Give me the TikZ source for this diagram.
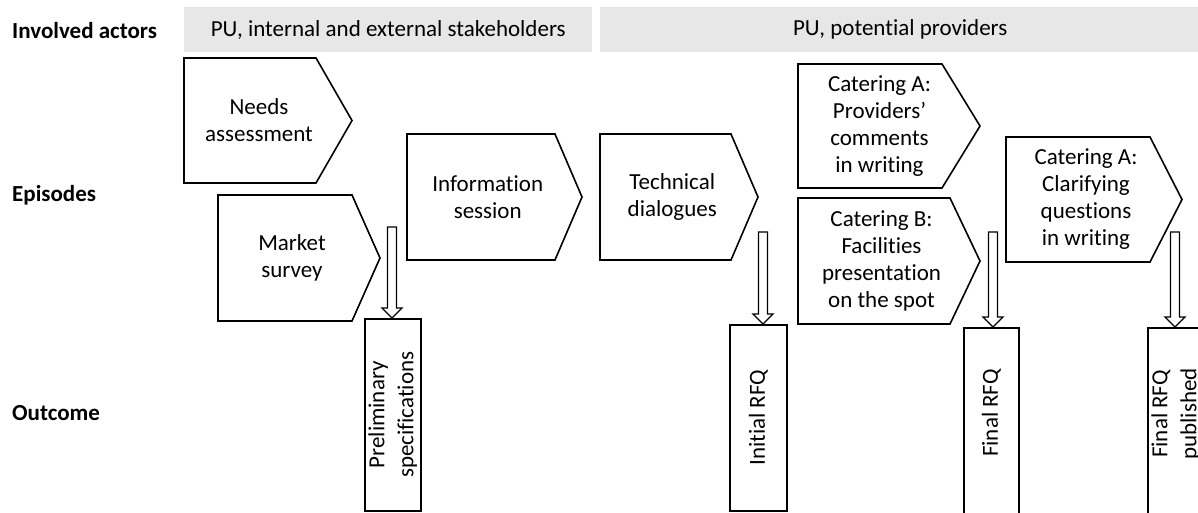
\documentclass[tikz,border=0pt]{standalone}
\usepackage{fontspec}
\setmainfont{Carlito}[Ligatures={NoCommon}]
\usetikzlibrary{calc}

\definecolor{actorfill}{HTML}{E7E7E7}

\tikzset{
  basefont/.style={font=\fontsize{23}{27}\selectfont},
  actorbar/.style={fill=actorfill, draw=none, inner sep=0pt, basefont, anchor=north west},
  rowlabel/.style={font=\fontsize{23}{27}\selectfont\bfseries, anchor=west, inner sep=0pt},
  episodebox/.style={draw=black, line width=1.6pt, line join=miter, fill=white},
  episodetext/.style={align=center, basefont, inner sep=0pt},
  outbox/.style={draw=black, line width=1.6pt, fill=white, inner sep=0pt, anchor=north west},
  outtext/.style={rotate=90, align=center, font=\fontsize{23}{29}\selectfont, inner sep=0pt},
  hollow/.style={draw=black, line width=1.3pt, fill=white, line join=miter},
}

% episode: name, left, top, shoulder x, tip x, bottom, text
\newcommand\episode[7]{%
  \draw[episodebox] (#2,#3) -- (#4,#3) -- (#5,{(#3+#6)/2}) -- (#4,#6) -- (#2,#6) -- cycle;
  \node[episodetext] (#1) at ({(#2+(#4+#5)/2)/2},{(#3+#6)/2}) {#7};
}

% hollow block arrow from a start coordinate straight down to the top of a box
\newcommand\hollowarrow[2]{%
  \draw[hollow] let \p1=(#1), \p2=(#1 |- #2.north) in
    (\x1-4.5pt,\y1) -- (\x1+4.5pt,\y1) -- (\x1+4.5pt,\y2+10pt) -- (\x1+10pt,\y2+10pt)
    -- (\x2,\y2) -- (\x1-10pt,\y2+10pt) -- (\x1-4.5pt,\y2+10pt) -- cycle;
}

\begin{document}
\begin{tikzpicture}[x=1pt,y=-1pt]
\useasboundingbox (0,0) rectangle (1198,512);
\clip (0,0) rectangle (1198,512);

% row labels
\node[rowlabel] (lblactors)   at (12,31)  {Involved actors};
\node[rowlabel] (lblepisodes) at (12,195) {Episodes};
\node[rowlabel] (lbloutcome)  at (12,413) {Outcome};

% actor bars
\node[actorbar, minimum width=408pt, minimum height=45pt] (bar1) at (184,7)
  {PU, internal and external stakeholders};
\node[actorbar, minimum width=600pt, minimum height=45pt] (bar2) at (600,7)
  {PU, potential providers};

% episodes
\episode{needs}{184}{58}{316}{352}{183}{Needs\\assessment}
\episode{market}{218}{195}{352}{380}{321}{Market\\survey}
\episode{info}{407}{134}{555}{582}{260}{Information\\session}
\episode{tech}{600}{134}{731}{758}{260}{Technical\\dialogues}
\episode{catA}{798}{64}{942}{980}{188}{Catering A:\\Providers’\\comments\\in writing}
\episode{catB}{798}{198}{950}{980}{324}{Catering B:\\Facilities\\presentation\\on the spot}
\episode{catAq}{1006}{137}{1150}{1182}{262}{Catering A:\\Clarifying\\questions\\in writing}

% outcomes
\node[outbox, minimum width=56pt, minimum height=192pt] (prelim) at (364,318) {};
\node[outtext] (prelimtext) at (prelim.center) {Preliminary\\specifications};
\node[outbox, minimum width=57pt, minimum height=186pt] (initial) at (729,324) {};
\node[outtext] (initialtext) at (initial.center) {Initial RFQ};
\node[outbox, minimum width=55pt, minimum height=190pt] (final) at (963,327) {};
\node[outtext] (finaltext) at ($(final.north)+(0,86)$) {Final RFQ};
\node[outbox, minimum width=56pt, minimum height=190pt] (published) at (1147,327) {};
\node[outtext] (publishedtext) at ($(published.north)+(0,87)$) {Final RFQ\\published};

% arrows from episodes to outcomes
\coordinate (fromsurvey)  at (392,227);
\coordinate (fromtech)    at (763,232);
\coordinate (fromcatB)    at (993,232);
\coordinate (fromcatAq)   at (1175,232);
\hollowarrow{fromsurvey}{prelim}
\hollowarrow{fromtech}{initial}
\hollowarrow{fromcatB}{final}
\hollowarrow{fromcatAq}{published}
\end{tikzpicture}
\end{document}
